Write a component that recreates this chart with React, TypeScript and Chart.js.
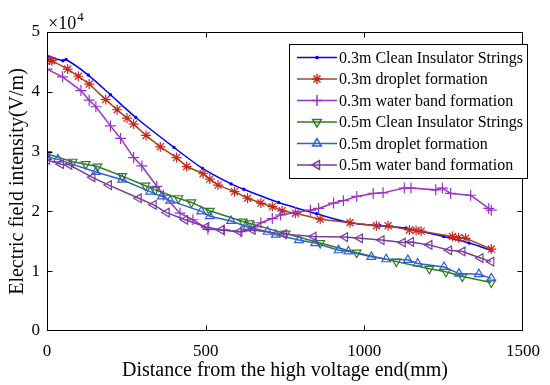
import React, { useEffect, useRef } from 'react';
import { Chart, registerables } from 'chart.js';
import { drawPoint } from 'chart.js/helpers';

Chart.register(...registerables);

// Distance from the high voltage end (mm); field values in units of 1e4 V/m
const clean03X = [0, 50, 60, 130, 200, 280, 400, 490, 580, 620, 730, 850, 955, 1050, 1130, 1250, 1330, 1400];
const clean03Y = [4.6, 4.52, 4.54, 4.28, 3.95, 3.57, 3.07, 2.72, 2.46, 2.37, 2.15, 1.96, 1.81, 1.76, 1.72, 1.58, 1.47, 1.35];

const drop03X = [0, 8, 15, 65, 99, 133, 185, 221, 252, 273, 312, 357, 408, 440, 492, 513, 539, 591, 632, 674, 710, 741, 783, 861, 955, 1038, 1075, 1142, 1163, 1179, 1278, 1297, 1319, 1400];
const drop03Y = [4.54, 4.53, 4.52, 4.38, 4.26, 4.13, 3.87, 3.7, 3.56, 3.46, 3.27, 3.08, 2.9, 2.75, 2.63, 2.54, 2.44, 2.33, 2.22, 2.14, 2.08, 2.01, 1.97, 1.87, 1.81, 1.76, 1.76, 1.69, 1.68, 1.67, 1.58, 1.56, 1.55, 1.37];

const band03X = [0, 49, 107, 133, 154, 200, 232, 273, 299, 346, 367, 419, 460, 507, 559, 611, 653, 674, 710, 736, 783, 830, 856, 903, 934, 976, 1028, 1059, 1126, 1147, 1225, 1246, 1272, 1335, 1392, 1400];
const band03Y = [4.38, 4.25, 4.02, 3.86, 3.75, 3.43, 3.22, 2.9, 2.76, 2.42, 2.27, 1.97, 1.86, 1.7, 1.69, 1.66, 1.74, 1.81, 1.88, 1.94, 1.98, 2.02, 2.05, 2.14, 2.18, 2.25, 2.3, 2.31, 2.39, 2.39, 2.36, 2.39, 2.3, 2.27, 2.05, 2.02];

const clean05X = [0, 81, 122, 159, 237, 310, 341, 414, 455, 513, 617, 638, 752, 861, 976, 1101, 1205, 1257, 1309, 1400];
const clean05Y = [2.96, 2.83, 2.79, 2.75, 2.59, 2.43, 2.36, 2.22, 2.15, 2.01, 1.83, 1.8, 1.63, 1.47, 1.31, 1.16, 1.04, 0.99, 0.91, 0.81];

const drop05X = [0, 34, 154, 237, 325, 362, 388, 486, 513, 580, 632, 695, 721, 794, 845, 919, 950, 1022, 1069, 1137, 1168, 1251, 1298, 1361, 1400];
const drop05Y = [2.91, 2.87, 2.66, 2.53, 2.33, 2.25, 2.18, 2.0, 1.92, 1.84, 1.74, 1.66, 1.61, 1.52, 1.47, 1.35, 1.33, 1.24, 1.2, 1.19, 1.13, 1.07, 0.96, 0.95, 0.88];

const band05X = [0, 44, 70, 143, 195, 289, 336, 377, 435, 502, 549, 606, 648, 747, 840, 939, 986, 1054, 1121, 1147, 1205, 1267, 1309, 1366, 1400];
const band05Y = [2.86, 2.79, 2.78, 2.57, 2.44, 2.22, 2.11, 1.98, 1.86, 1.74, 1.69, 1.66, 1.69, 1.62, 1.58, 1.57, 1.55, 1.52, 1.48, 1.49, 1.44, 1.35, 1.33, 1.22, 1.16];

const xTicks = [0, 500, 1000, 1500];
const yTicks = [0, 1, 2, 3, 4, 5];

const FONT = '"Liberation Serif", "Times New Roman", serif';

const seriesDefs = [
  { label: '0.3m Clean Insulator Strings', xs: clean03X, ys: clean03Y, line: '#0000ff', mark: '#0000ff', style: 'circle', rot: 0, r: 1.1, fill: '#0000ff', tension: 0.3 },
  { label: '0.3m droplet formation', xs: drop03X, ys: drop03Y, line: '#a0481e', mark: '#c8281c', style: 'star', rot: 0, r: 5, fill: 'rgba(0,0,0,0)', tension: 0 },
  { label: '0.3m water band formation', xs: band03X, ys: band03Y, line: '#9a32c8', mark: '#9a32c8', style: 'cross', rot: 0, r: 5.5, fill: 'rgba(0,0,0,0)', tension: 0 },
  { label: '0.5m Clean Insulator Strings', xs: clean05X, ys: clean05Y, line: '#2f7d1e', mark: '#2f7d1e', style: 'triangle', rot: 180, r: 5, fill: 'rgba(0,0,0,0)', tension: 0 },
  { label: '0.5m droplet formation', xs: drop05X, ys: drop05Y, line: '#2f5fd0', mark: '#2f5fd0', style: 'triangle', rot: 0, r: 5, fill: 'rgba(0,0,0,0)', tension: 0 },
  { label: '0.5m water band formation', xs: band05X, ys: band05Y, line: '#7a3aa0', mark: '#7a3aa0', style: 'triangle', rot: 270, r: 5, fill: 'rgba(0,0,0,0)', tension: 0 },
];

const framePlugin = {
  id: 'frame',
  afterDraw(chart: any) {
    const { ctx, chartArea: a, scales } = chart;
    ctx.save();
    ctx.strokeStyle = '#000';
    ctx.lineWidth = 1;
    const L = Math.round(a.left) + 0.5, R = Math.round(a.right) - 0.5;
    const T = Math.round(a.top) + 0.5, B = Math.round(a.bottom) - 0.5;
    ctx.strokeRect(L, T, R - L, B - T);
    ctx.beginPath();
    xTicks.slice(1, -1).forEach((v) => {
      const px = Math.round(scales.x.getPixelForValue(v)) + 0.5;
      ctx.moveTo(px, B); ctx.lineTo(px, B - 5);
      ctx.moveTo(px, T); ctx.lineTo(px, T + 5);
    });
    yTicks.slice(1, -1).forEach((v) => {
      const py = Math.round(scales.y.getPixelForValue(v)) + 0.5;
      ctx.moveTo(L, py); ctx.lineTo(L + 5, py);
      ctx.moveTo(R, py); ctx.lineTo(R - 5, py);
    });
    ctx.stroke();

    // exponent label
    ctx.fillStyle = '#000';
    ctx.textBaseline = 'alphabetic';
    ctx.textAlign = 'left';
    ctx.font = `18px ${FONT}`;
    ctx.fillText('×10', 48, 29);
    const w = ctx.measureText('×10').width;
    ctx.font = `13px ${FONT}`;
    ctx.fillText('4', 48 + w + 1, 21);

    // legend
    const bx = 289.5, by = 44.5, bw = 238, bh = 134;
    ctx.fillStyle = '#fff';
    ctx.fillRect(bx, by, bw, bh);
    ctx.strokeStyle = '#000';
    ctx.lineWidth = 1;
    ctx.strokeRect(bx, by, bw, bh);
    seriesDefs.forEach((s, i) => {
      const y = 57.5 + i * 21.5;
      ctx.strokeStyle = s.line;
      ctx.lineWidth = 1.5;
      ctx.beginPath();
      ctx.moveTo(297, y); ctx.lineTo(337, y);
      ctx.stroke();
      ctx.strokeStyle = s.mark;
      ctx.fillStyle = s.fill;
      drawPoint(ctx, { pointStyle: s.style, rotation: s.rot, radius: s.r, borderWidth: 1.2 } as any, 317, y);
      ctx.fillStyle = '#000';
      ctx.font = `16px ${FONT}`;
      ctx.textBaseline = 'middle';
      ctx.textAlign = 'left';
      ctx.fillText(s.label, 339, y + 1);
    });
    ctx.restore();
  },
};

export default function App() {
  const ref = useRef<HTMLCanvasElement>(null);
  useEffect(() => {
    const canvas = ref.current;
    if (!canvas) return;
    const datasets = seriesDefs.map((s, i) => ({
      label: s.label,
      data: s.xs.map((x, j) => ({ x, y: s.ys[j] })),
      showLine: true,
      borderColor: s.line,
      borderWidth: 1.5,
      tension: s.tension,
      pointStyle: s.style as any,
      rotation: s.rot,
      pointRadius: s.r,
      pointBorderColor: s.mark,
      pointBackgroundColor: s.fill,
      pointBorderWidth: 1.2,
      fill: false,
      order: -i,
    }));
    const chart = new Chart(canvas, {
      type: 'scatter',
      data: { datasets },
      options: {
        animation: false,
        responsive: false,
        maintainAspectRatio: false,
        layout: { padding: { left: 0, right: 22, top: 32, bottom: 0 } },
        plugins: { legend: { display: false }, tooltip: { enabled: false } },
        scales: {
          x: {
            type: 'linear',
            min: 0,
            max: 1500,
            afterBuildTicks: (s: any) => { s.ticks = xTicks.map((v) => ({ value: v })); },
            ticks: { color: '#000', font: { family: FONT, size: 17 }, padding: 10, maxRotation: 0, autoSkip: false, callback: (v: any) => String(v) },
            grid: { display: false, drawTicks: false },
            border: { display: false },
            title: { display: true, text: 'Distance from the high voltage end(mm)', color: '#000', font: { family: FONT, size: 20 }, padding: { top: 2, bottom: 2 } },
            afterFit: (s: any) => { s.height = 54; },
          },
          y: {
            type: 'linear',
            min: 0,
            max: 5,
            afterBuildTicks: (s: any) => { s.ticks = yTicks.map((v) => ({ value: v })); },
            ticks: { color: '#000', font: { family: FONT, size: 17 }, padding: 7, autoSkip: false, callback: (v: any) => String(v) },
            grid: { display: false, drawTicks: false },
            border: { display: false },
            title: { display: true, text: 'Electric field intensity(V/m)', color: '#000', font: { family: FONT, size: 20 }, padding: { top: 6, bottom: 6 } },
            afterFit: (s: any) => { s.width = 47; },
          },
        },
      },
      plugins: [framePlugin],
    });
    return () => chart.destroy();
  }, []);
  return (
    <div style={{ position: 'fixed', left: 0, top: 0, width: 550, height: 385, background: '#fff' }}>
      <canvas ref={ref} width={550} height={385} style={{ width: 550, height: 385, display: 'block' }} />
    </div>
  );
}
